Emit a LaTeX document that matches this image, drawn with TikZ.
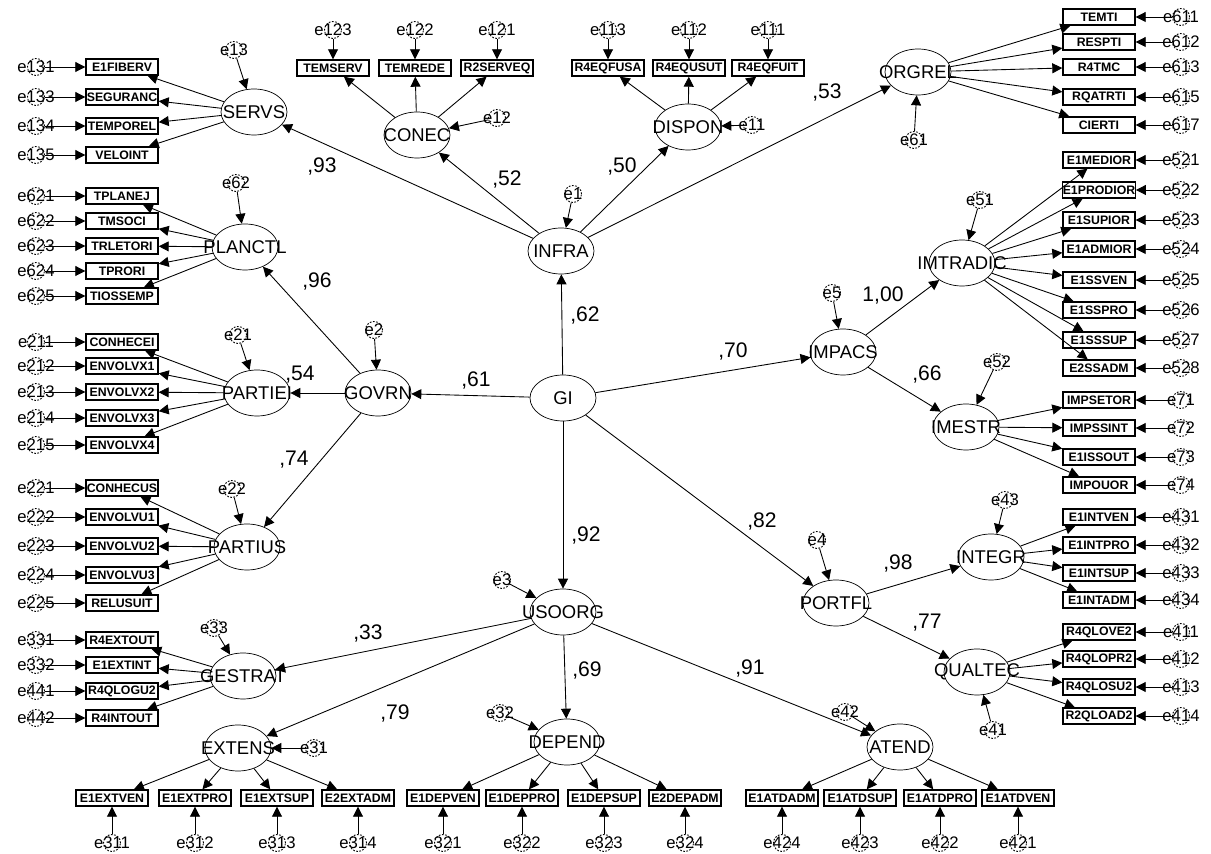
\documentclass[tikz,border=0pt]{standalone}
\usepackage{fontspec}
\setmainfont{Liberation Sans}
\usetikzlibrary{arrows.meta, shapes.geometric}
\newcommand{\ez}[1]{\makebox[0pt]{#1}}

\begin{document}
\begin{tikzpicture}[
  x=0.02cm, y=-0.02cm,
  every node/.style={font=\fontsize{9.5}{10}\selectfont},
  latent/.style={
    draw, ellipse, inner sep=0pt,
    minimum width=1.32cm, minimum height=0.92cm,
    font=\fontsize{10.5}{11}\selectfont
  },
  ind/.style={
    draw, line width=0.8pt, inner sep=0pt,
    minimum width=1.44cm, minimum height=0.32cm,
    font=\bfseries\fontsize{7}{7}\selectfont
  },
  err/.style={
    draw, circle, dash pattern=on 1pt off 0.8pt, line width=0.5pt,
    minimum size=0.34cm, inner sep=0pt
  },
  arr/.style={-{Triangle[length=2mm,width=2mm]}, line width=0.5pt},
  coef/.style={font=\fontsize{12}{13}\selectfont},
]
\useasboundingbox (0,0) rectangle (1211,854);

% Latent variables
\node[latent] (gi)       at (563,398) {\ez{GI}};
\node[latent] (infra)    at (561,251) {\ez{INFRA}};
\node[latent] (govrn)    at (378,393) {\ez{GOVRN}};
\node[latent] (usoorg)   at (563,612) {\ez{USOORG}};
\node[latent] (impacs)   at (843,352) {\ez{IMPACS}};
\node[latent] (portfl)   at (836,603) {\ez{PORTFL}};
\node[latent] (servs)    at (254,112) {\ez{SERVS}};
\node[latent] (conec)    at (417,135) {\ez{CONEC}};
\node[latent] (dispon)   at (688,127) {\ez{DISPON}};
\node[latent] (orgrel)   at (918,72)  {\ez{ORGREL}};
\node[latent] (planctl)  at (245,247) {\ez{PLANCTL}};
\node[latent] (partiei)  at (257,393) {\ez{PARTIEI}};
\node[latent] (partius)  at (247,547) {\ez{PARTIUS}};
\node[latent] (gestrat)  at (243,676) {\ez{GESTRAT}};
\node[latent] (extens)   at (238,748) {\ez{EXTENS}};
\node[latent] (depend)   at (567,742) {\ez{DEPEND}};
\node[latent] (atend)    at (900,747) {\ez{ATEND}};
\node[latent] (imtradic) at (962,263) {\ez{IMTRADIC}};
\node[latent] (imestr)   at (966,427) {\ez{IMESTR}};
\node[latent] (integr)   at (991,557) {\ez{INTEGR}};
\node[latent] (qualtec)  at (977,672) {\ez{QUALTEC}};

% Disturbances
\foreach \ev/\x/\y/\to in {e1/573/194/infra, e2/374/330/govrn, e3/502/580/usoorg,
    e4/817/540/portfl, e5/832/293/impacs, e13/234/50/servs, e12/497/118/conec,
    e11/752/125/dispon, e61/914/140/orgrel, e62/236/183/planctl, e21/238/335/partiei,
    e22/232/489/partius, e33/214/628/gestrat, e31/314/748/extens, e32/500/713/depend,
    e42/845/712/atend, e51/980/200/imtradic, e52/997/362/imestr, e43/1005/500/integr,
    e41/993/730/qualtec}{
  \node[err] (\ev) at (\x,\y) {\ez{\ev}};
  \draw[arr] (\ev) -- (\to);
}

% Structural paths
\draw[arr] (gi) -- (infra);
\draw[arr] (gi) -- (govrn);
\draw[arr] (gi) -- (impacs);
\draw[arr] (gi) -- (portfl);
\draw[arr] (gi) -- (usoorg);
\draw[arr] (infra) -- (servs);
\draw[arr] (infra) -- (conec);
\draw[arr] (infra) -- (dispon);
\draw[arr] (infra) -- (orgrel);
\draw[arr] (govrn) -- (planctl);
\draw[arr] (govrn) -- (partiei);
\draw[arr] (govrn) -- (partius);
\draw[arr] (usoorg) -- (gestrat);
\draw[arr] (usoorg) -- (extens);
\draw[arr] (usoorg) -- (depend);
\draw[arr] (usoorg) -- (atend);
\draw[arr] (impacs) -- (imtradic);
\draw[arr] (impacs) -- (imestr);
\draw[arr] (portfl) -- (integr);
\draw[arr] (portfl) -- (qualtec);

% Coefficients
\node[coef] (c93) at (322,166) {,93};
\node[coef] (c52) at (507,179) {,52};
\node[coef] (c50) at (622,166) {,50};
\node[coef] (c53) at (827,92)  {,53};
\node[coef] (c62) at (585,315) {,62};
\node[coef] (c96) at (317,281) {,96};
\node[coef] (c54) at (300,375) {,54};
\node[coef] (c74) at (294,460) {,74};
\node[coef] (c61) at (476,380) {,61};
\node[coef] (c70) at (733,351) {,70};
\node[coef] (c82) at (762,521) {,82};
\node[coef] (c92) at (586,535) {,92};
\node[coef] (c33) at (368,633) {,33};
\node[coef] (c79) at (395,713) {,79};
\node[coef] (c69) at (587,670) {,69};
\node[coef] (c91) at (750,668) {,91};
\node[coef] (c100) at (883,295) {1,00};
\node[coef] (c66) at (927,374) {,66};
\node[coef] (c98) at (898,563) {,98};
\node[coef] (c77) at (927,623) {,77};

% Indicators, left side
\foreach \lbl/\y/\ev/\lv in {E1FIBERV/67/e131/servs, SEGURANC/97/e133/servs,
    TEMPOREL/126/e134/servs, VELOINT/155/e135/servs,
    TPLANEJ/196/e621/planctl, TMSOCI/221/e622/planctl, TRLETORI/246/e623/planctl,
    TPRORI/271/e624/planctl, TIOSSEMP/296/e625/planctl,
    CONHECEI/342/e211/partiei, ENVOLVX1/366/e212/partiei, ENVOLVX2/392/e213/partiei,
    ENVOLVX3/418/e214/partiei, ENVOLVX4/445/e215/partiei,
    CONHECUS/488/e221/partius, ENVOLVU1/517/e222/partius, ENVOLVU2/546/e223/partius,
    ENVOLVU3/575/e224/partius, RELUSUIT/603/e225/partius,
    R4EXTOUT/640/e331/gestrat, E1EXTINT/665/e332/gestrat, R4QLOGU2/691/e441/gestrat,
    R4INTOUT/718/e442/gestrat}{
  \node[ind] (x\ev) at (122,\y) {\lbl};
  \node[err] (\ev) at (36,\y) {\ez{\ev}};
  \draw[arr] (\ev) -- (x\ev);
  \draw[arr] (\lv) -- (x\ev);
}

% Indicators, right side
\foreach \lbl/\y/\ev/\lv in {TEMTI/17/e611/orgrel, RESPTI/42/e612/orgrel,
    R4TMC/67/e613/orgrel, RQATRTI/97/e615/orgrel, CIERTI/125/e617/orgrel,
    E1MEDIOR/160/e521/imtradic, E1PRODIOR/190/e522/imtradic, E1SUPIOR/220/e523/imtradic,
    E1ADMIOR/249/e524/imtradic, E1SSVEN/280/e525/imtradic, E1SSPRO/310/e526/imtradic,
    E1SSSUP/340/e527/imtradic, E2SSADM/368/e528/imtradic,
    IMPSETOR/400/e71/imestr, IMPSSINT/428/e72/imestr, E1ISSOUT/457/e73/imestr,
    IMPOUOR/485/e74/imestr,
    E1INTVEN/517/e431/integr, E1INTPRO/545/e432/integr, E1INTSUP/573/e433/integr,
    E1INTADM/600/e434/integr,
    R4QLOVE2/632/e411/qualtec, R4QLOPR2/659/e412/qualtec, R4QLOSU2/687/e413/qualtec,
    R2QLOAD2/716/e414/qualtec}{
  \node[ind] (x\ev) at (1099,\y) {\lbl};
  \node[err] (\ev) at (1181,\y) {\ez{\ev}};
  \draw[arr] (\ev) -- (x\ev);
  \draw[arr] (\lv) -- (x\ev);
}

% Indicators, top
\foreach \lbl/\x/\ev/\lv in {TEMSERV/333/e123/conec, TEMREDE/415/e122/conec,
    R2SERVEQ/497/e121/conec, R4EQFUSA/608/e113/dispon, R4EQUSUT/689/e112/dispon,
    R4EQFUIT/768/e111/dispon}{
  \node[ind] (x\ev) at (\x,68) {\lbl};
  \node[err] (\ev) at (\x,30) {\ez{\ev}};
  \draw[arr] (\ev) -- (x\ev);
  \draw[arr] (\lv) -- (x\ev);
}

% Indicators, bottom
\foreach \lbl/\x/\ev/\lv in {E1EXTVEN/112/e311/extens, E1EXTPRO/195/e312/extens,
    E1EXTSUP/277/e313/extens, E2EXTADM/358/e314/extens,
    E1DEPVEN/443/e321/depend, E1DEPPRO/522/e322/depend, E1DEPSUP/604/e323/depend,
    E2DEPADM/685/e324/depend,
    E1ATDADM/782/e424/atend, E1ATDSUP/860/e423/atend, E1ATDPRO/940/e422/atend,
    E1ATDVEN/1018/e421/atend}{
  \node[ind] (x\ev) at (\x,798) {\lbl};
  \node[err] (\ev) at (\x,843) {\ez{\ev}};
  \draw[arr] (\ev) -- (x\ev);
  \draw[arr] (\lv) -- (x\ev);
}

\end{tikzpicture}
\end{document}
